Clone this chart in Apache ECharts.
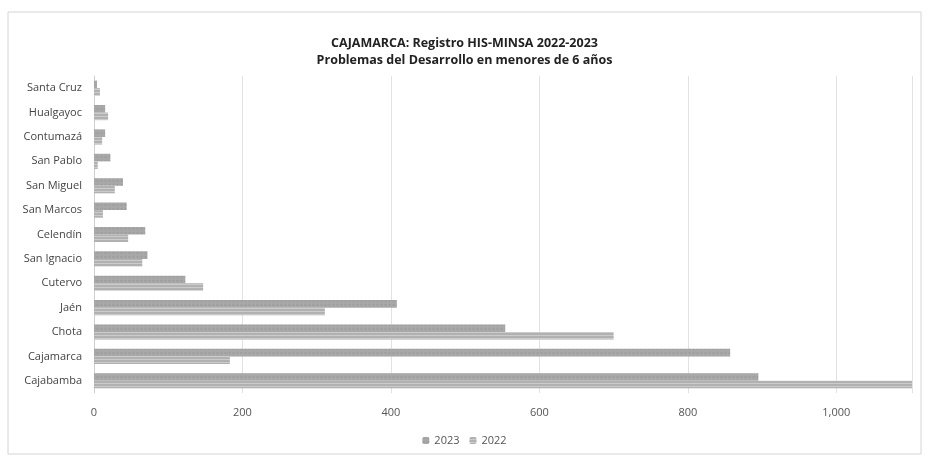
<!DOCTYPE html>
<html><head><meta charset="utf-8">
<script src="https://cdn.jsdelivr.net/npm/echarts@6/dist/echarts.min.js"></script>
<style>html,body{margin:0;padding:0;background:#fff}#c{width:929px;height:463px}</style>
</head><body><div id="c"></div>
<script>
const categories = ['Cajabamba','Cajamarca','Chota','Jaén','Cutervo','San Ignacio','Celendín','San Marcos','San Miguel','San Pablo','Contumazá','Hualgayoc','Santa Cruz'];
const values2023 = [895, 857, 554, 408, 123, 72, 69, 44, 39, 22, 15, 15, 4];
const values2022 = [1102, 183, 700, 311, 147, 65, 46, 12, 28, 5, 11, 19, 8];
const xTicks = [0, 200, 400, 600, 800, 1000];

const chart = echarts.init(document.getElementById('c'), null, {renderer: 'canvas'});
const font = '"Open Sans", "Noto Sans", sans-serif';
chart.setOption({
  animation: false,
  backgroundColor: '#fff',
  graphic: [{type: 'rect', shape: {x: 8, y: 12, width: 913, height: 442}, style: {fill: 'none', stroke: '#d4d4d4', lineWidth: 1}}],
  title: {
    text: 'CAJAMARCA: Registro HIS-MINSA 2022-2023\nProblemas del Desarrollo en menores de 6 años',
    left: 'center', top: 30,
    textStyle: {fontFamily: font, fontSize: 12.5, fontWeight: 'bold', color: '#222', lineHeight: 17}
  },
  legend: {
    data: ['2023', '2022'], bottom: 12, left: 'center', itemWidth: 7, itemHeight: 7, itemGap: 10,
    textStyle: {fontFamily: font, fontSize: 11, color: '#555'}
  },
  grid: {left: 94, right: 17, top: 76, bottom: 70, containLabel: false},
  xAxis: {
    type: 'value', min: 0, max: 1102, interval: 200,
    axisLine: {show: false}, axisTick: {show: false},
    splitLine: {lineStyle: {color: '#e2e2e2'}},
    axisLabel: {showMaxLabel: false, margin: 14, fontFamily: font, fontSize: 11, color: '#555',
      formatter: v => xTicks.indexOf(v) >= 0 ? v.toLocaleString('en-US') : ''}
  },
  yAxis: {
    type: 'category', data: categories,
    axisLine: {lineStyle: {color: '#cfcfcf'}}, axisTick: {show: false},
    axisLabel: {margin: 12, fontFamily: font, fontSize: 11, color: '#444'}
  },
  series: [
    {name: '2023', type: 'bar', data: values2023, barGap: '0%', barCategoryGap: '38%',
     itemStyle: {color: '#a8a8a8', decal: {symbol: 'rect', symbolSize: 0.6, dashArrayX: [3, 1], dashArrayY: [2, 2], color: 'rgba(130,130,130,0.45)', rotation: 0}}},
    {name: '2022', type: 'bar', data: values2022, barGap: '0%', barCategoryGap: '38%',
     itemStyle: {color: '#cbcbcb', decal: {symbol: 'circle', symbolSize: 0.8, dashArrayX: [2, 0], dashArrayY: [2, 1], color: 'rgba(90,90,90,0.5)', rotation: 0}}}
  ]
});
</script></body></html>
